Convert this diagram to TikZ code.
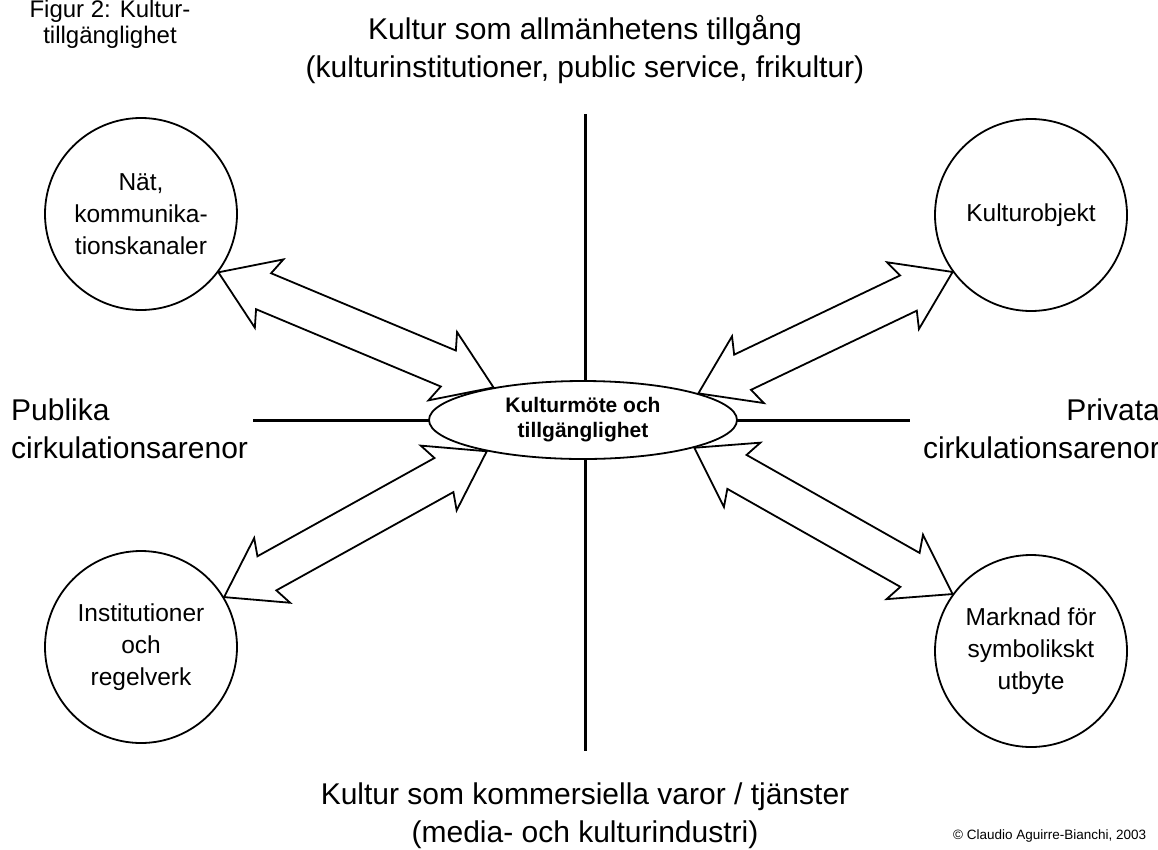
\documentclass[tikz,border=0pt]{standalone}
\usepackage{fontspec}
\setmainfont{Liberation Sans}
\usetikzlibrary{shapes.geometric,calc,backgrounds}
% block arrow with two heads between two named points
\newcommand{\dblarrow}[2]{%
	\coordinate (h1) at ($(#1)!55pt!(#2)$);
	\coordinate (n1) at ($(#1)!49pt!(#2)$);
	\coordinate (h2) at ($(#2)!55pt!(#1)$);
	\coordinate (n2) at ($(#2)!49pt!(#1)$);
	\draw[blockarr] (#1) -- ($(h1)!37pt!90:(#2)$) -- ($(n1)!19.5pt!90:(#2)$)
	-- ($(n2)!19.5pt!-90:(#1)$) -- ($(h2)!37pt!-90:(#1)$) -- (#2)
	-- ($(h2)!37pt!90:(#1)$) -- ($(n2)!19.5pt!90:(#1)$)
	-- ($(n1)!19.5pt!-90:(#2)$) -- ($(h1)!37pt!-90:(#2)$) -- cycle;
}
\begin{document}
\begin{tikzpicture}[x=1pt,y=-1pt,
	circ/.style={circle,draw,line width=1.8pt,fill=white,minimum size=192pt,inner sep=0pt,align=center,font=\fontsize{24.5}{32}\selectfont},
	big/.style={inner sep=0pt,font=\fontsize{30}{38}\selectfont},
	blockarr/.style={draw,line width=1.8pt,fill=white},
	axis/.style={line width=3pt}]
	\useasboundingbox (0,0) rectangle (1158,849);
	\node[ellipse,draw,line width=1.8pt,fill=white,minimum width=308pt,minimum height=78pt,inner sep=0pt,align=center,font=\fontsize{21}{25}\selectfont\bfseries] (mote) at (583,420) {Kulturmöte och\\tillgänglighet};
	\node[circ] (nat) at (141,214) {Nät,\\kommunika-\\tionskanaler};
	\node[circ] (objekt) at (1031,215) {Kulturobjekt};
	\node[circ] (inst) at (141,647) {Institutioner\\och\\regelverk};
	\node[circ] (marknad) at (1031,651) {Marknad för\\symbolikskt\\utbyte};
	\node[big,align=center] (allm) at (585,50) {Kultur som allmänhetens tillgång\\(kulturinstitutioner, public service, frikultur)};
	\node[big,align=center] (komm) at (585,816) {Kultur som kommersiella varor / tjänster\\(media- och kulturindustri)};
	\node[big,align=left,anchor=west] (publ) at (11,429) {Publika\\cirkulationsarenor};
	\node[big,align=right,anchor=east] (priv) at (1160,429) {Privata\\cirkulationsarenor};
	\node[inner sep=0pt,align=center,font=\fontsize{24}{26}\selectfont] (figur) at (110,24) {Figur 2: Kultur-\\tillgänglighet};
	\node[inner sep=0pt,anchor=west,font=\fontsize{13.5}{16}\selectfont] (copy) at (953,836) {© Claudio Aguirre-Bianchi, 2003};
	\begin{scope}[on background layer]
		\coordinate (axtop) at (585,114);
		\coordinate (axbot) at (585,751);
		\coordinate (axleft) at (253,420);
		\coordinate (axright) at (910,420);
		\draw[axis] (axtop) -- (axbot) (axleft) -- (axright);
		\dblarrow{nat.-37}{mote.160.4}
		\dblarrow{objekt.-144.7}{mote.13.9}
		\dblarrow{inst.31.2}{mote.198.4}
		\dblarrow{marknad.144.7}{mote.-14.7}
	\end{scope}
\end{tikzpicture}
\end{document}
